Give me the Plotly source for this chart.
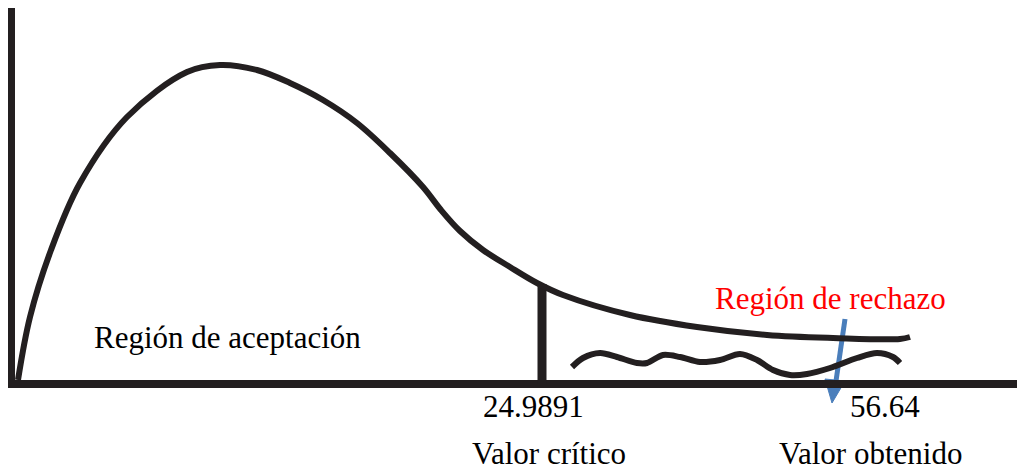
import plotly.graph_objects as go

# Curve of the distribution (diagram coordinates)
curve_x = [18, 30, 51, 80, 127, 187, 220, 257, 290, 323, 357,
           390, 423, 441, 460, 483, 510, 537, 563, 630, 697, 767, 833, 900, 910]
curve_y = [380, 317, 250, 183, 117, 72, 65, 70, 83, 100, 123,
           153, 187, 210, 231, 250, 267, 283, 295, 315, 327, 335, 338, 339, 337]

# Wavy hatch in the rejection region
wave_x = [572, 583, 600, 617, 637, 647, 663, 680, 700, 720, 740, 757, 773, 790, 807,
          830, 857, 877, 893, 900]
wave_y = [367, 358, 353, 357, 363, 363, 355, 357, 362, 360, 354, 360, 370, 375, 374,
          368, 358, 353, 357, 363]

# Axes / critical line
axis_v_x = [9.5, 9.5]
axis_v_y = [7, 388]
axis_h_x = [4, 1040]
axis_h_y = [384, 384]
crit_x = [542, 542]
crit_y = [284, 384]

# Arrow
arrow_x = [845, 836]
arrow_y = [319, 381]
head_x = [825, 845, 832, 825]
head_y = [379, 381, 403, 379]

# Labels
labels = ["Región de aceptación", "Región de rechazo", "24.9891", "56.64",
          "Valor crítico", "Valor obtenido"]
label_x = [227, 830, 533, 885, 549, 870]
label_y = [337, 298, 406, 406, 453, 453]
label_color = ["#000000", "#ff0000", "#000000", "#000000", "#000000", "#000000"]

ink = "#231f20"
blue = "#4a7ebb"
page_offset = 8  # default page margin around the figure

fig = go.Figure()
fig.add_trace(go.Scatter(x=arrow_x, y=arrow_y, mode="lines",
                         line=dict(color=blue, width=5), hoverinfo="skip"))
fig.add_trace(go.Scatter(x=head_x, y=head_y, mode="lines", fill="toself",
                         fillcolor=blue, line=dict(color=blue, width=1), hoverinfo="skip"))
fig.add_trace(go.Scatter(x=axis_v_x, y=axis_v_y, mode="lines",
                         line=dict(color=ink, width=11), hoverinfo="skip"))
fig.add_trace(go.Scatter(x=axis_h_x, y=axis_h_y, mode="lines",
                         line=dict(color=ink, width=8), hoverinfo="skip"))
fig.add_trace(go.Scatter(x=crit_x, y=crit_y, mode="lines",
                         line=dict(color=ink, width=9), hoverinfo="skip"))
fig.add_trace(go.Scatter(x=curve_x, y=curve_y, mode="lines",
                         line=dict(color=ink, width=6, shape="spline", smoothing=1),
                         hoverinfo="skip"))
fig.add_trace(go.Scatter(x=wave_x, y=wave_y, mode="lines",
                         line=dict(color=ink, width=6, shape="spline", smoothing=0.9),
                         hoverinfo="skip"))

for t, x, y, c in zip(labels, label_x, label_y, label_color):
    fig.add_annotation(x=x, y=y, text=t, showarrow=False, xanchor="center", yanchor="middle",
                       font=dict(family="Liberation Serif", size=31, color=c))

W, H = 1025, 471
fig.update_layout(
    width=W, height=H,
    margin=dict(l=0, r=0, t=0, b=0),
    paper_bgcolor="white", plot_bgcolor="white",
    showlegend=False,
    xaxis=dict(range=[page_offset, W + page_offset], visible=False, fixedrange=True),
    yaxis=dict(range=[H + page_offset, page_offset], visible=False, fixedrange=True),
)
fig.write_html("out.html")
